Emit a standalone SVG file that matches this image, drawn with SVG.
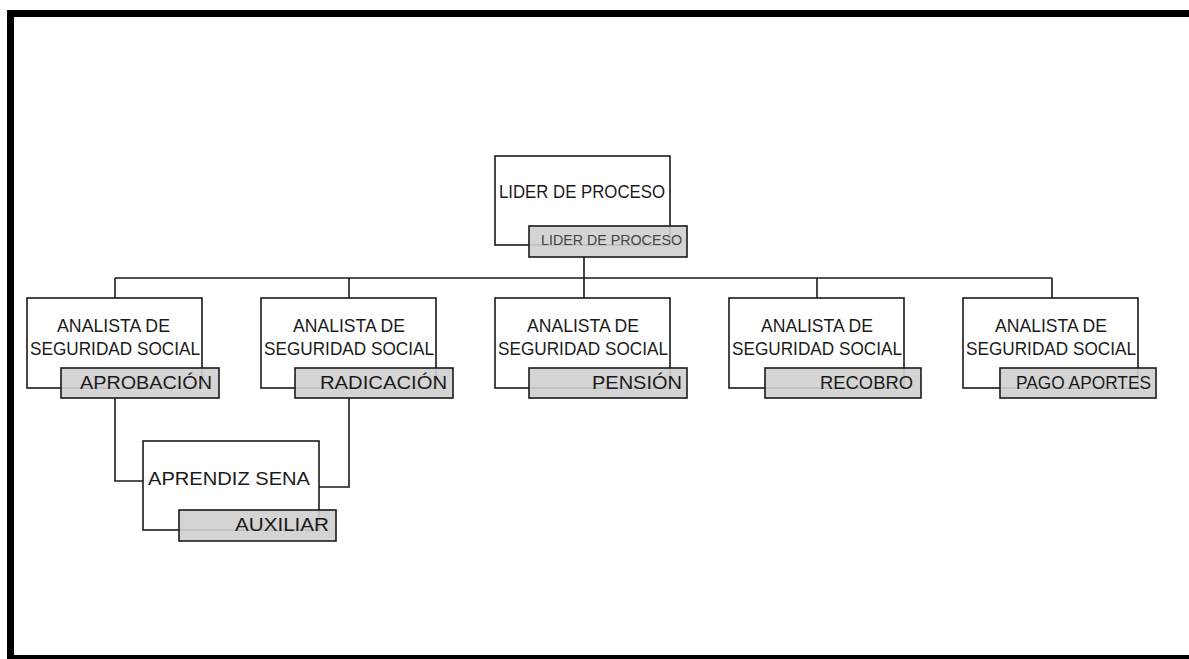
<svg xmlns="http://www.w3.org/2000/svg" width="1189" height="659" viewBox="0 0 1189 659">
<style>
.main{fill:#fff;stroke:#1a1a1a;stroke-width:1.6}
.sub{fill:#cfcfcf;fill-opacity:0.9;stroke:#1a1a1a;stroke-width:1.6}
.t{font-family:"Liberation Sans",Arial,sans-serif;font-size:17.5px;fill:#1a1a1a}
.ts{font-family:"Liberation Sans",Arial,sans-serif;font-size:18.5px;fill:#1a1a1a}
.tg{font-family:"Liberation Sans",Arial,sans-serif;font-size:15px;fill:#444}
.c{fill:none;stroke:#1a1a1a;stroke-width:1.6}
</style>
<rect width="1189" height="659" fill="#fff"/>
<g id="frame" fill="#000">
<rect x="7" y="10" width="7" height="649"/>
<rect x="7" y="10" width="1182" height="7"/>
<rect x="7" y="655" width="1182" height="4"/>
</g>
<g id="connectors">
<path class="c" d="M584 257V278M115 278H1052M115 278V298M349 278V298M584 278V298M817 278V298M1052 278V298"/>
<path class="c" d="M115 398V481H143"/>
<path class="c" d="M349 398V487H319"/>
</g>
<g id="lider">
<rect class="main" x="495" y="156" width="175" height="89"/>
<text class="t" x="499" y="198" textLength="166" lengthAdjust="spacingAndGlyphs">LIDER DE PROCESO</text>
<rect class="sub" x="529" y="226" width="158" height="31"/>
<text class="tg" x="541" y="245" textLength="141" lengthAdjust="spacingAndGlyphs">LIDER  DE PROCESO</text>
</g>
<g id="aprobacion">
<rect class="main" x="27" y="298" width="175" height="90"/>
<text class="t" x="57" y="332" textLength="113" lengthAdjust="spacingAndGlyphs">ANALISTA DE</text>
<text class="t" x="30" y="355" textLength="170" lengthAdjust="spacingAndGlyphs">SEGURIDAD SOCIAL</text>
<rect class="sub" x="61" y="368" width="158" height="30"/>
<text class="ts" x="80" y="389" textLength="132" lengthAdjust="spacingAndGlyphs">APROBACIÓN</text>
</g>
<g id="radicacion">
<rect class="main" x="261" y="298" width="175" height="90"/>
<text class="t" x="293" y="332" textLength="112" lengthAdjust="spacingAndGlyphs">ANALISTA DE</text>
<text class="t" x="264" y="355" textLength="170" lengthAdjust="spacingAndGlyphs">SEGURIDAD SOCIAL</text>
<rect class="sub" x="295" y="368" width="158" height="30"/>
<text class="ts" x="320" y="389" textLength="127" lengthAdjust="spacingAndGlyphs">RADICACIÓN</text>
</g>
<g id="pension">
<rect class="main" x="495" y="298" width="175" height="90"/>
<text class="t" x="527" y="332" textLength="112" lengthAdjust="spacingAndGlyphs">ANALISTA DE</text>
<text class="t" x="498" y="355" textLength="170" lengthAdjust="spacingAndGlyphs">SEGURIDAD SOCIAL</text>
<rect class="sub" x="529" y="368" width="158" height="30"/>
<text class="ts" x="592" y="389" textLength="90" lengthAdjust="spacingAndGlyphs">PENSIÓN</text>
</g>
<g id="recobro">
<rect class="main" x="729" y="298" width="175" height="90"/>
<text class="t" x="761" y="332" textLength="112" lengthAdjust="spacingAndGlyphs">ANALISTA DE</text>
<text class="t" x="732" y="355" textLength="170" lengthAdjust="spacingAndGlyphs">SEGURIDAD SOCIAL</text>
<rect class="sub" x="765" y="368" width="156" height="30"/>
<text class="ts" x="820" y="389" textLength="93" lengthAdjust="spacingAndGlyphs">RECOBRO</text>
</g>
<g id="pago">
<rect class="main" x="963" y="298" width="175" height="90"/>
<text class="t" x="995" y="332" textLength="112" lengthAdjust="spacingAndGlyphs">ANALISTA DE</text>
<text class="t" x="966" y="355" textLength="170" lengthAdjust="spacingAndGlyphs">SEGURIDAD SOCIAL</text>
<rect class="sub" x="1000" y="368" width="156" height="30"/>
<text class="t" x="1016" y="389" textLength="135" lengthAdjust="spacingAndGlyphs">PAGO APORTES</text>
</g>
<g id="aprendiz">
<rect class="main" x="143" y="441" width="176" height="89"/>
<text class="ts" x="148" y="485" textLength="162" lengthAdjust="spacingAndGlyphs">APRENDIZ SENA</text>
<rect class="sub" x="179" y="510" width="157" height="31"/>
<text class="ts" x="235" y="531" textLength="94" lengthAdjust="spacingAndGlyphs">AUXILIAR</text>
</g>
</svg>
